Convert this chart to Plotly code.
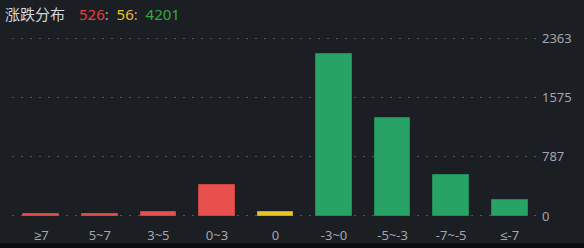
import plotly.graph_objects as go

# Advance/decline distribution by price-change bucket
categories = ["≥7", "5~7", "3~5", "0~3", "0", "-3~0", "-5~-3", "-7~-5", "≤-7"]
counts = [31, 27, 58, 410, 56, 2148, 1301, 540, 212]
groups = ["up", "up", "up", "up", "flat", "down", "down", "down", "down"]

y_ticks = [0, 787, 1575, 2363]
y_tick_labels = ["0", "787", "1575", "2363"]

up_total, flat_total, down_total = 526, 56, 4201

fill = {"up": "#e8504d", "flat": "#e8c523", "down": "#27a366"}
edge = {"up": "#c94643", "flat": "#c9aa1f", "down": "#218a57"}

BG = "#1b1e23"
TEXT = "#a3a7ae"
GRID = "#50545b"

W, H = 584, 248
ML, MR, MT, MB = 12, 45, 36, 30
PW, PH = W - ML - MR, H - MT - MB
# a few pixels of headroom above and below so the edge gridlines are drawn
px_per_unit = 177 / 2363
pad = 2 / px_per_unit

fig = go.Figure()
fig.add_trace(go.Bar(
    x=categories,
    y=counts,
    width=0.61,
    marker=dict(
        color=[fill[g] for g in groups],
        line=dict(color=[edge[g] for g in groups], width=1),
    ),
    hoverinfo="skip",
))

fig.update_layout(
    width=W,
    height=H,
    margin=dict(l=ML, r=MR, t=MT, b=MB, autoexpand=False),
    paper_bgcolor=BG,
    plot_bgcolor=BG,
    showlegend=False,
    bargap=0,
    font=dict(family="Noto Sans, Noto Sans CJK SC, sans-serif", color=TEXT, size=13),
    xaxis=dict(
        type="category",
        range=[-0.5, len(categories) - 0.5],
        showgrid=False,
        zeroline=False,
        showline=False,
        ticks="",
        tickfont=dict(family="Noto Sans, sans-serif", size=13, color=TEXT),
        ticklabelstandoff=8,
        automargin=False,
        fixedrange=True,
    ),
    yaxis=dict(
        side="right",
        range=[-pad, y_ticks[-1] + pad],
        tickvals=y_ticks,
        ticktext=y_tick_labels,
        tickfont=dict(family="Noto Sans, sans-serif", size=13, color=TEXT),
        showgrid=True,
        gridcolor=GRID,
        gridwidth=1,
        griddash="2px,7px",
        zeroline=False,
        showline=False,
        ticks="",
        ticklabelstandoff=2,
        automargin=False,
        fixedrange=True,
    ),
    shapes=[
        dict(
            type="rect", xref="paper", yref="paper",
            x0=-ML / PW, x1=1 + MR / PW,
            y0=-MB / PH, y1=-(MB - 5) / PH,
            fillcolor="#0b0c0e", line=dict(width=0), layer="above",
        )
    ],
    annotations=[
        dict(
            xref="paper", yref="paper",
            x=-(ML - 3) / PW, y=1 + (MT - 14) / PH,
            xanchor="left", yanchor="middle",
            showarrow=False,
            font=dict(family="Noto Sans CJK SC, sans-serif", size=15, color="#d5d8dc"),
            text="涨跌分布",
        ),
        dict(
            xref="paper", yref="paper",
            x=(77 - ML) / PW, y=1 + (MT - 14) / PH,
            xanchor="left", yanchor="middle",
            showarrow=False,
            font=dict(family="Noto Sans, sans-serif", size=15, color=TEXT),
            text=(
                f"<span style='color:#ee3b3b'>{up_total}</span>"
                f"<span style='color:{TEXT}'>:&nbsp;&nbsp;</span>"
                f"<span style='color:#e8c523'>{flat_total}</span>"
                f"<span style='color:{TEXT}'>:&nbsp;&nbsp;</span>"
                f"<span style='color:#2eaa3e'>{down_total}</span>"
            ),
        ),
    ],
)

fig.write_html("out.html")
